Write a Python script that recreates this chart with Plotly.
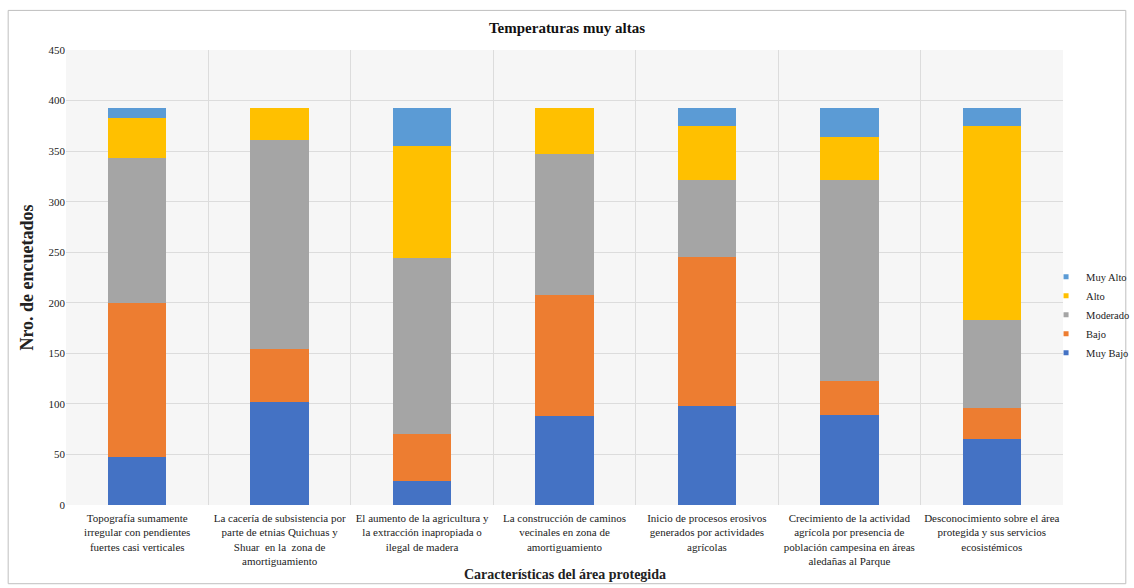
import plotly.graph_objects as go

categorias = [
    "Topografía sumamente<br>irregular con pendientes<br>fuertes casi verticales",
    "La cacería de subsistencia por<br>parte de etnias Quichuas y<br>Shuar  en la  zona de<br>amortiguamiento",
    "El aumento de la agricultura y<br>la extracción inapropiada o<br>ilegal de madera",
    "La construcción de caminos<br>vecinales en zona de<br>amortiguamiento",
    "Inicio de procesos erosivos<br>generados por actividades<br>agrícolas",
    "Crecimiento de la actividad<br>agrícola por presencia de<br>población campesina en áreas<br>aledañas al Parque",
    "Desconocimiento sobre el área<br>protegida y sus servicios<br>ecosistémicos",
]

muy_bajo = [47, 102, 24, 88, 98, 89, 65]
bajo = [153, 52, 46, 120, 147, 34, 31]
moderado = [143, 207, 174, 139, 76, 198, 87]
alto = [40, 32, 111, 46, 54, 43, 192]
muy_alto = [10, 0, 38, 0, 18, 29, 18]

series = [
    ("Muy Bajo", muy_bajo, "#4472C4"),
    ("Bajo", bajo, "#ED7D31"),
    ("Moderado", moderado, "#A5A5A5"),
    ("Alto", alto, "#FFC000"),
    ("Muy Alto", muy_alto, "#5B9BD5"),
]

serif = "Liberation Serif, Times New Roman, serif"

fig = go.Figure()
for nombre, valores, color in series:
    fig.add_trace(go.Bar(
        x=categorias, y=valores, name=nombre, legendgroup=nombre,
        showlegend=False,
        marker=dict(color=color, line=dict(width=0)),
    ))
    # small square swatch for the legend entry
    fig.add_trace(go.Scatter(
        x=[None], y=[None], mode="markers", name=nombre, legendgroup=nombre,
        marker=dict(symbol="square", size=5, color=color),
    ))

fig.update_layout(
    width=1134, height=588,
    barmode="stack", bargap=0.59,
    paper_bgcolor="white", plot_bgcolor="#f6f6f6",
    margin=dict(l=66, r=71, t=50, b=83, autoexpand=False),
    font=dict(family=serif, color="#222222", size=11),
    title=dict(text="<b>Temperaturas muy altas</b>", x=0.5, xanchor="center",
               y=0.952, yanchor="middle", font=dict(size=15, color="#111111")),
    legend=dict(x=0.983, xanchor="left", y=0.418, yanchor="middle",
                traceorder="reversed", font=dict(size=10.5, family=serif),
                itemwidth=30, tracegroupgap=0, bgcolor="rgba(0,0,0,0)"),
    showlegend=True,
    xaxis=dict(
        tickson="boundaries", showgrid=True, gridcolor="#dcdcdc", gridwidth=1,
        ticks="", tickangle=0, automargin=False, ticklabelstandoff=5,
        tickfont=dict(size=11, family=serif),
        showline=False, zeroline=False,
    ),
    yaxis=dict(
        range=[0, 450], dtick=50, showgrid=True, gridcolor="#dcdcdc", gridwidth=1,
        tickfont=dict(size=11, family=serif), ticks="", automargin=False,
        title=dict(text="<b>Nro. de encuetados</b>", font=dict(size=18, family=serif),
                   standoff=10),
        zeroline=False, showline=False,
    ),
    annotations=[dict(text="<b>Características del área protegida</b>",
                      xref="paper", yref="paper", x=0.5, y=-0.152,
                      xanchor="center", yanchor="middle", showarrow=False,
                      font=dict(size=14, family=serif, color="#222222"))],
    shapes=[dict(type="rect", xref="paper", yref="paper",
                 x0=-0.058, x1=1.063, y0=-0.173, y1=1.087,
                 line=dict(color="#bfbfbf", width=1), fillcolor="rgba(0,0,0,0)",
                 layer="below")],
)

fig.write_html("out.html")
